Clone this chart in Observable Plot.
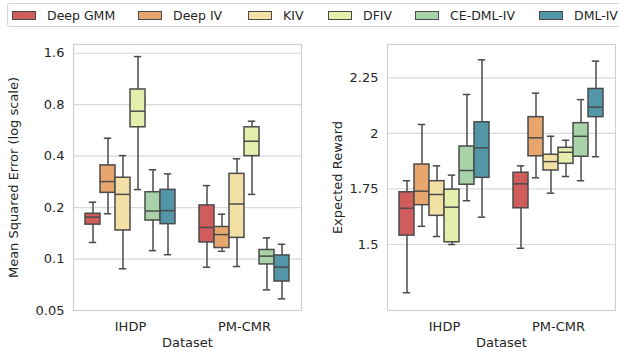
<!DOCTYPE html>
<html>
<head>
<meta charset="utf-8">
<script src="https://cdn.jsdelivr.net/npm/d3@7"></script>
<script src="https://cdn.jsdelivr.net/npm/@observablehq/plot@0.6"></script>
<style>
  html, body { margin: 0; padding: 0; background: #fff; }
  body { width: 619px; height: 351px; position: relative; overflow: hidden; font-family: "DejaVu Sans", sans-serif; color: #262626; }
  #legend { position: absolute; left: 7px; top: 3px; width: 640px; height: 24px; border: 1px solid #d6d6d6; border-radius: 3px; box-sizing: border-box; font-size: 12.5px; }
  .item { position: absolute; top: 0; height: 22px; display: flex; align-items: center; white-space: nowrap; }
  .sw { width: 24px; height: 9px; border: 1px solid #4b4b4b; box-sizing: border-box; margin-right: 11px; }
  #p1 { position: absolute; left: 0; top: 30px; }
  #p2 { position: absolute; left: 310px; top: 30px; }
</style>
</head>
<body>
<div id="legend"></div>
<div id="p1"></div>
<div id="p2"></div>
<script>
const methods = ["Deep GMM", "Deep IV", "KIV", "DFIV", "CE-DML-IV", "DML-IV"];
const datasets = ["IHDP", "PM-CMR"];
const colors = ["#d05c5c", "#e8a66f", "#f2e0a4", "#e5efab", "#a8d3a8", "#5296a8"];

// [whisker low, q1, median, q3, whisker high] per method
const mseIHDP = [
  [0.125, 0.159, 0.176, 0.184, 0.215],
  [0.184, 0.244, 0.284, 0.353, 0.509],
  [0.0877, 0.147, 0.239, 0.299, 0.403],
  [0.255, 0.59, 0.733, 0.982, 1.53],
  [0.112, 0.168, 0.191, 0.246, 0.333],
  [0.106, 0.160, 0.192, 0.254, 0.315]
];
const msePMCMR = [
  [0.0896, 0.125, 0.153, 0.206, 0.269],
  [0.111, 0.116, 0.139, 0.154, 0.183],
  [0.0904, 0.133, 0.210, 0.315, 0.386],
  [0.239, 0.40, 0.489, 0.59, 0.64],
  [0.066, 0.093, 0.104, 0.113, 0.133],
  [0.0585, 0.0739, 0.0896, 0.105, 0.122]
];
const rewardIHDP = [
  [1.283, 1.540, 1.663, 1.735, 1.787],
  [1.582, 1.677, 1.740, 1.860, 2.040],
  [1.536, 1.629, 1.725, 1.785, 1.854],
  [1.500, 1.510, 1.668, 1.747, 1.812],
  [1.697, 1.769, 1.833, 1.941, 2.175],
  [1.623, 1.800, 1.935, 2.050, 2.331]
];
const rewardPMCMR = [
  [1.483, 1.663, 1.773, 1.823, 1.854],
  [1.800, 1.897, 1.980, 2.073, 2.181],
  [1.731, 1.833, 1.873, 1.904, 1.987],
  [1.806, 1.863, 1.915, 1.935, 1.969],
  [1.787, 1.895, 1.987, 2.046, 2.152],
  [1.895, 2.073, 2.118, 2.200, 2.325]
];

const mseTicks = [0.05, 0.1, 0.2, 0.4, 0.8, 1.6];
const mseGrid = [0.1, 0.2, 0.4, 0.8, 1.6];
const rewardTicks = [1.5, 1.75, 2, 2.25];

function rows(byDataset) {
  const out = [];
  datasets.forEach((ds, i) => {
    byDataset[i].forEach((s, j) => {
      out.push({dataset: ds, method: methods[j], lo: s[0], q1: s[1], med: s[2], q3: s[3], hi: s[4]});
    });
  });
  return out;
}

const lineColor = "#4b4b4b";

function boxChart({data, width, marginLeft, marginRight, yScale, ticks, label, grid, labelOffset}) {
  return Plot.plot({
    width, height: 321,
    marginLeft, marginRight, marginTop: 14, marginBottom: 41,
    style: {fontFamily: "DejaVu Sans", fontSize: "13px", color: "#262626", background: "transparent"},
    fx: {domain: datasets, padding: 0, axis: "bottom", tickSize: 0, tickPadding: 11,
         label: "Dataset", labelAnchor: "center", labelOffset: 36},
    x: {domain: methods, paddingInner: 0, paddingOuter: 0.75, axis: null},
    y: yScale,
    color: {domain: methods, range: colors},
    marks: [
      Plot.gridY(grid, {stroke: "#dadada", strokeOpacity: 1, strokeWidth: 1.2}),
      Plot.frame({facet: "super", stroke: "#d0d0d0", strokeWidth: 1.2}),
      Plot.axisY(ticks, {ticks: Infinity, tickFormat: d => String(d), tickSize: 0, tickPadding: 9,
        label, labelAnchor: "center", labelOffset, labelArrow: "none"}),
      Plot.ruleX(data, {fx: "dataset", x: "method", y1: "lo", y2: "q1", stroke: lineColor, strokeWidth: 1.5}),
      Plot.ruleX(data, {fx: "dataset", x: "method", y1: "q3", y2: "hi", stroke: lineColor, strokeWidth: 1.5}),
      Plot.tickY(data, {fx: "dataset", x: "method", y: "lo", inset: 3.8, stroke: lineColor, strokeWidth: 1.5}),
      Plot.tickY(data, {fx: "dataset", x: "method", y: "hi", inset: 3.8, stroke: lineColor, strokeWidth: 1.5}),
      Plot.rectY(data, {fx: "dataset", x: "method", y1: "q1", y2: "q3", fill: "method", stroke: lineColor, strokeWidth: 1.5}),
      Plot.tickY(data, {fx: "dataset", x: "method", y: "med", stroke: lineColor, strokeWidth: 1.5})
    ]
  });
}

document.getElementById("p1").append(boxChart({
  data: rows([mseIHDP, msePMCMR]),
  width: 310, marginLeft: 72, marginRight: 9,
  yScale: {type: "log", domain: [0.05, 1.8]},
  ticks: mseTicks, label: "Mean Squared Error (log scale)",
  grid: mseGrid, labelOffset: 65
}));

document.getElementById("p2").append(boxChart({
  data: rows([rewardIHDP, rewardPMCMR]),
  width: 309, marginLeft: 77, marginRight: 4,
  yScale: {type: "linear", domain: [1.203, 2.40]},
  ticks: rewardTicks, label: "Expected Reward",
  grid: rewardTicks, labelOffset: 55
}));

const legendLefts = [4, 130, 240, 320, 407, 531];
const legend = document.getElementById("legend");
methods.forEach((m, i) => {
  const it = document.createElement("div");
  it.className = "item";
  it.style.left = legendLefts[i] + "px";
  const sw = document.createElement("div");
  sw.className = "sw";
  sw.style.background = colors[i];
  const tx = document.createElement("span");
  tx.textContent = m;
  it.append(sw, tx);
  legend.append(it);
});
</script>
</body>
</html>
